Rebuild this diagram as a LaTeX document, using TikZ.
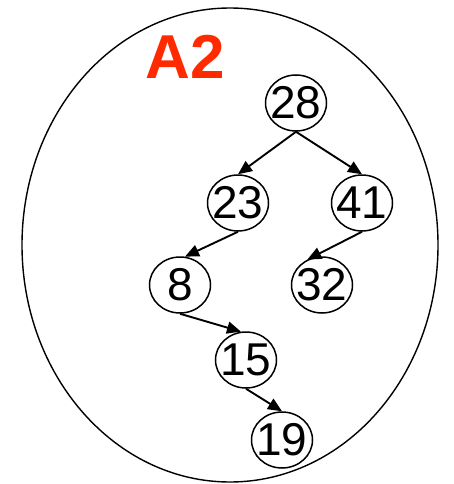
\documentclass[tikz,border=0pt]{standalone}
\usepackage{fontspec}
\setmainfont{Liberation Sans}
\usetikzlibrary{shapes.geometric,arrows.meta}
\definecolor{titlered}{HTML}{FF2A00}
\newcommand{\zw}[1]{\makebox[0pt]{#1}}
\begin{document}
\begin{tikzpicture}[x=1pt,y=-1pt,
  treenode/.style={ellipse,draw,line width=1.5pt,minimum width=61pt,minimum height=56pt,inner sep=0pt,font=\fontsize{46}{46}\selectfont},
  edge/.style={line width=1.9pt,-{Triangle[length=14pt,width=12pt]}}]
\useasboundingbox (0,0) rectangle (454,484);
\node[ellipse,draw,line width=1.4pt,minimum width=416pt,minimum height=474pt,inner sep=0pt] (outer) at (230,245) {};
\node[text=titlered,font=\fontsize{62}{62}\selectfont\bfseries] (title) at (185,57) {A2};
\node[treenode] (n28) at (296,103) {\zw{28}};
\node[treenode] (n23) at (238,203) {\zw{23}};
\node[treenode] (n41) at (362,203) {\zw{41}};
\node[treenode] (n8) at (180,285) {\zw{8}};
\node[treenode] (n32) at (322,285) {\zw{32}};
\node[treenode] (n15) at (246,360) {\zw{15}};
\node[treenode] (n19) at (282,440) {\zw{19}};
\draw[edge] (n28.south) -- (n23.north);
\draw[edge] (n28.south) -- (n41.north);
\draw[edge] (n23.south) -- (n8.80);
\draw[edge] (n41.south) -- (n32.120);
\draw[edge] (n8.south) -- (n15.100);
\draw[edge] (n15.south) -- (n19.north);
\end{tikzpicture}
\end{document}
